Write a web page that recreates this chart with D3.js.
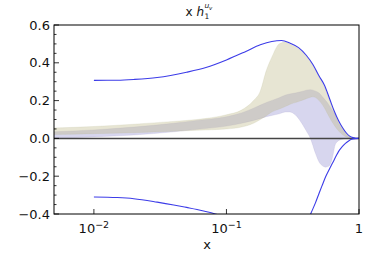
<!DOCTYPE html>
<html><head><meta charset="utf-8">
<script src="https://cdn.jsdelivr.net/npm/d3@7"></script>
<style>body{margin:0;background:#fff}svg{display:block}text{font-family:"DejaVu Sans",sans-serif;fill:#111}</style>
</head><body>
<svg id="c" width="382" height="255"></svg>
<script>
// ---- data ----
const boundUpperX = [0.01,0.015,0.02,0.03,0.05,0.07,0.1,0.14,0.18,0.22,0.26,0.3,0.35,0.4,0.45,0.5,0.55,0.6,0.65,0.7,0.75,0.8,0.85,0.9,0.95,1];
const boundUpperY = [0.307,0.308,0.312,0.322,0.350,0.375,0.415,0.46,0.495,0.513,0.518,0.505,0.48,0.44,0.39,0.33,0.28,0.21,0.145,0.095,0.058,0.030,0.012,0.004,0.001,0];
const boundLowerLeftX = [0.01,0.015,0.02,0.03,0.04,0.05,0.06,0.07,0.08,0.09];
const boundLowerLeftY = [-0.310,-0.313,-0.319,-0.337,-0.352,-0.365,-0.376,-0.387,-0.397,-0.408];
const boundLowerRightX = [0.42,0.434,0.47,0.5,0.53,0.56,0.6,0.63,0.67,0.7,0.75,0.79,0.84,0.88,0.94,1];
const boundLowerRightY = [-0.42,-0.396,-0.34,-0.29,-0.245,-0.203,-0.16,-0.132,-0.095,-0.07,-0.042,-0.026,-0.012,-0.005,-0.001,0];

const bandAX = [0.005,0.01,0.02,0.04,0.06,0.1,0.13,0.16,0.18,0.2,0.22,0.25,0.28,0.3,0.35,0.4,0.45,0.5,0.55,0.6,0.65,0.7,0.75,0.8,0.85,0.9,1];
const bandAUpper = [0.055,0.063,0.075,0.09,0.10,0.125,0.15,0.2,0.25,0.36,0.43,0.50,0.51,0.50,0.475,0.435,0.385,0.325,0.27,0.2,0.14,0.09,0.055,0.028,0.012,0.004,0];
const bandALower = [0.02,0.025,0.03,0.038,0.043,0.05,0.06,0.08,0.1,0.12,0.14,0.155,0.17,0.18,0.195,0.21,0.22,0.2,0.16,0.11,0.07,0.04,0.02,0.008,0.003,0.001,0];

const bandBX = [0.005,0.01,0.02,0.04,0.06,0.1,0.13,0.16,0.2,0.25,0.28,0.3,0.33,0.37,0.4,0.43,0.47,0.5,0.53,0.56,0.59,0.62,0.64,0.66,0.7,0.75,0.8,0.85,0.9,1];
const bandBUpper = [0.035,0.045,0.06,0.08,0.095,0.115,0.135,0.16,0.19,0.215,0.23,0.235,0.24,0.248,0.255,0.258,0.25,0.24,0.22,0.2,0.18,0.155,0.14,0.125,0.08,0.048,0.022,0.008,0.002,0];
const bandBLower = [0.002,0.008,0.018,0.035,0.048,0.065,0.08,0.095,0.115,0.13,0.14,0.14,0.125,0.08,0.04,0.0,-0.08,-0.125,-0.145,-0.152,-0.148,-0.12,-0.08,-0.035,-0.012,-0.004,-0.001,0,0,0];

const yTicks = [0.6,0.4,0.2,0.0,-0.2,-0.4];
const yTickLabels = ["0.6","0.4","0.2","0.0","\u22120.2","\u22120.4"];
const xTicks = [0.01,0.1,1];
const xTickExps = ["\u22122","\u22121",null];

// ---- layout ----
const L=54,R=359,T=25,B=214;
const svg=d3.select("#c");
const x=d3.scaleLog().domain([0.005,1]).range([L,R]);
const y=d3.scaleLinear().domain([-0.4,0.6]).range([B,T]);

svg.append("clipPath").attr("id","clip").append("rect").attr("x",L).attr("y",T).attr("width",R-L).attr("height",B-T);
const g=svg.append("g").attr("clip-path","url(#clip)");

function band(xs,lo,hi,fill,op,stroke){
  const data=xs.map((v,i)=>({x:v,lo:lo[i],hi:hi[i]}));
  g.append("path").datum(data)
    .attr("d",d3.area().x(d=>x(d.x)).y0(d=>y(d.lo)).y1(d=>y(d.hi)).curve(d3.curveMonotoneX))
    .attr("fill",fill).attr("fill-opacity",op).attr("stroke",stroke).attr("stroke-opacity",0.3).attr("stroke-width",0.6);
}
band(bandBX,bandBLower,bandBUpper,"rgb(155,153,212)",0.4,"#a098c8");
band(bandAX,bandALower,bandAUpper,"rgb(192,186,140)",0.38,"#b8b890");

// zero line
g.append("line").attr("x1",L).attr("x2",R).attr("y1",y(0)).attr("y2",y(0)).attr("stroke","#444").attr("stroke-width",1.5);

const line=d3.line().x(d=>x(d[0])).y(d=>y(d[1])).curve(d3.curveMonotoneX);
[[boundUpperX,boundUpperY],[boundLowerLeftX,boundLowerLeftY],[boundLowerRightX,boundLowerRightY]].forEach(([xs,ys])=>{
  g.append("path").datum(xs.map((v,i)=>[v,ys[i]])).attr("d",line)
   .attr("fill","none").attr("stroke","#3c3ce8").attr("stroke-width",1.1);
});

// frame
svg.append("rect").attr("x",L).attr("y",T).attr("width",R-L).attr("height",B-T).attr("fill","none").attr("stroke","#000").attr("stroke-width",1);

// y axis ticks (inward)
const yMinor=d3.range(-0.4,0.6001,0.05);
yMinor.forEach(v=>{
  const major=yTicks.some(t=>Math.abs(t-v)<1e-6);
  svg.append("line").attr("x1",L).attr("x2",L+(major?5:2.5)).attr("y1",y(v)).attr("y2",y(v)).attr("stroke","#000").attr("stroke-width",0.8);
});
yTicks.forEach((v,i)=>{
  svg.append("text").attr("x",L-4).attr("y",y(v)).attr("dy","0.36em").attr("text-anchor","end").attr("font-size",13).text(yTickLabels[i]);
});
// x axis ticks
xTicks.forEach((v,i)=>{
  svg.append("line").attr("x1",x(v)).attr("x2",x(v)).attr("y1",B).attr("y2",B-5).attr("stroke","#000").attr("stroke-width",0.8);
  const t=svg.append("text").attr("x",x(v)).attr("y",B+19).attr("text-anchor","middle").attr("font-size",13);
  if(xTickExps[i]){
    t.append("tspan").text("10");
    t.append("tspan").attr("dy",-5).attr("font-size",9.5).text(xTickExps[i]);
  } else t.text("1");
});
svg.append("text").attr("x",207).attr("y",249).attr("text-anchor","middle").attr("font-size",13).text("x");

// title x h_1^{u_v}
const tx=204;
svg.append("text").attr("x",tx).attr("y",16).attr("text-anchor","end").attr("font-size",12)
  .html('x <tspan font-style="italic">h</tspan>');
svg.append("text").attr("x",tx+0.5).attr("y",19).attr("font-size",7.5).text("1");
svg.append("text").attr("x",tx+0.5).attr("y",8).attr("font-size",7.5).attr("font-style","italic").text("u");
svg.append("text").attr("x",tx+5).attr("y",10).attr("font-size",5.5).attr("font-style","italic").text("v");
</script>
</body></html>
